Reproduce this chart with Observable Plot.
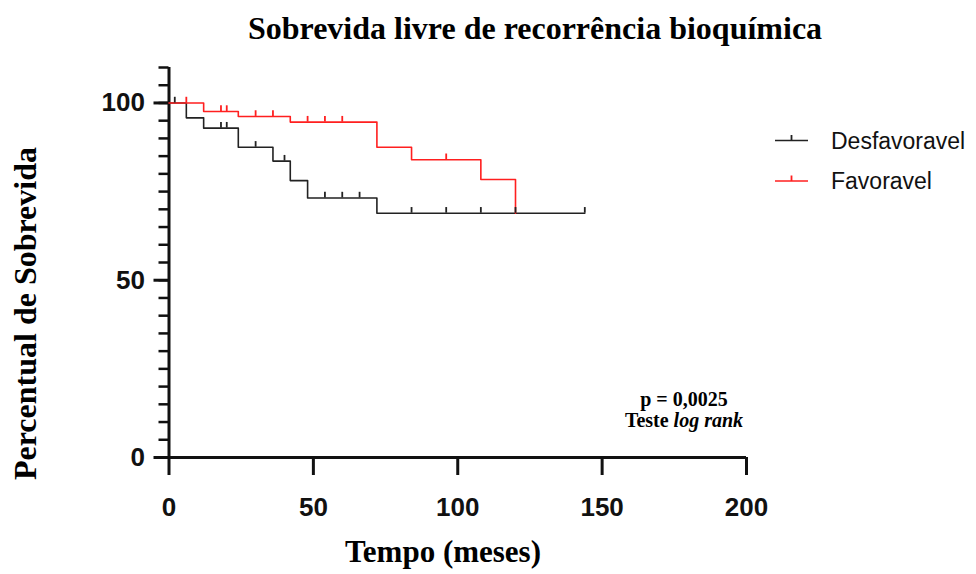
<!DOCTYPE html>
<html>
<head>
<meta charset="utf-8">
<script src="https://cdn.jsdelivr.net/npm/d3@7"></script>
<script src="https://cdn.jsdelivr.net/npm/@observablehq/plot@0.6"></script>
<style>
  html, body { margin: 0; padding: 0; background: #fff; }
  #chart { width: 976px; height: 574px; }
</style>
</head>
<body>
<div id="chart"></div>
<script>
// ---- data ----
const groups = ["Desfavoravel", "Favoravel"];
const groupColors = ["#222222", "#ff1f1f"];

const desfTimes = [0, 6, 12, 24, 36, 42, 48, 72, 144];
const desfSurv  = [100, 95.8, 92.9, 87.5, 83.6, 78.1, 73.2, 68.9, 68.9];
const desfCensored = [2, 18, 20, 30, 40, 54, 60, 66, 84, 96, 108, 120, 144];

const favTimes = [0, 12, 24, 42, 72, 84, 108, 120];
const favSurv  = [100, 97.6, 96.2, 94.6, 87.5, 84.0, 78.4, 68.9];
const favCensored = [6, 18, 20, 30, 36, 48, 54, 60, 96];

const xTicks = [0, 50, 100, 150, 200];
const yTicks = [0, 50, 100];
const yMinorTicks = d3.range(0, 111, 5);

const title = "Sobrevida livre de recorrência bioquímica";
const xLabel = "Tempo (meses)";
const yLabel = "Percentual de Sobrevida";
const pText = "p = 0,0025";

// ---- build tables ----
function steps(group, times, surv) {
  return times.map((t, i) => ({group, t, s: surv[i]}));
}
function survAt(times, surv, t) {
  let v = surv[0];
  for (let i = 0; i < times.length; i++) if (times[i] <= t) v = surv[i];
  return v;
}
function censor(group, times, surv, cens) {
  return cens.map(t => ({group, t, s: survAt(times, surv, t)}));
}
const curveRows = [
  ...steps("Desfavoravel", desfTimes, desfSurv),
  ...steps("Favoravel", favTimes, favSurv)
];
const censorRows = [
  ...censor("Desfavoravel", desfTimes, desfSurv, desfCensored),
  ...censor("Favoravel", favTimes, favSurv, favCensored)
];

const sans = "Liberation Sans, Arial, sans-serif";
const serif = "Liberation Serif, Times New Roman, serif";

const svg = Plot.plot({
  width: 976,
  height: 574,
  marginLeft: 168.5,
  marginRight: 230,
  marginTop: 67,
  marginBottom: 117,
  x: {domain: [0, 200]},
  y: {domain: [0, 110]},
  color: {domain: groups, range: groupColors},
  style: {background: "white", color: "#111", overflow: "visible"},
  marks: [
    Plot.axisY({ticks: yMinorTicks, tickSize: 10, strokeWidth: 2.5, tickFormat: () => "", label: null}),
    Plot.axisY({ticks: yTicks, tickSize: 15, strokeWidth: 3, tickPadding: 9,
      fontSize: 26, fontWeight: "bold", fontFamily: sans, label: null}),
    Plot.axisX({ticks: xTicks, tickSize: 18, strokeWidth: 3, tickPadding: 22,
      fontSize: 26, fontWeight: "bold", fontFamily: sans, label: null}),
    Plot.ruleX([0], {y1: 0, y2: 110, strokeWidth: 3}),
    Plot.ruleY([0], {x1: 0, x2: 200, strokeWidth: 3}),
    Plot.line(curveRows.filter(d => d.group === "Desfavoravel"), {x: "t", y: "s", stroke: "group", curve: "step-after", strokeWidth: 1.6}),
    Plot.line(curveRows.filter(d => d.group === "Favoravel"), {x: "t", y: "s", stroke: "group", curve: "step-after", strokeWidth: 1.6}),
    Plot.ruleX(censorRows, {x: "t", y1: "s", y2: d => d.s + 1.6, stroke: "group", strokeWidth: 1.8})
  ]
});

const s = d3.select(svg);
// title
s.append("text").attr("x", 535).attr("y", 38.5).attr("text-anchor", "middle")
  .attr("font-family", serif).attr("font-weight", "bold").attr("font-size", 32).attr("fill", "#000")
  .text(title);
// x label
s.append("text").attr("x", 443).attr("y", 562).attr("text-anchor", "middle")
  .attr("font-family", serif).attr("font-weight", "bold").attr("font-size", 31).attr("fill", "#000")
  .text(xLabel);
// y label
s.append("text").attr("transform", "translate(36,313.5) rotate(-90)").attr("text-anchor", "middle")
  .attr("font-family", serif).attr("font-weight", "bold").attr("font-size", 32).attr("fill", "#000")
  .text(yLabel);
// annotation
s.append("text").attr("x", 684).attr("y", 406).attr("text-anchor", "middle")
  .attr("font-family", serif).attr("font-weight", "bold").attr("font-size", 20).attr("fill", "#000")
  .text(pText);
const t2 = s.append("text").attr("x", 684).attr("y", 427).attr("text-anchor", "middle")
  .attr("font-family", serif).attr("font-weight", "bold").attr("font-size", 20).attr("fill", "#000");
t2.append("tspan").text("Teste ");
t2.append("tspan").attr("font-style", "italic").text("log rank");

// legend
const legendY = [140.5, 181];
groups.forEach((g, i) => {
  const gy = legendY[i];
  s.append("line").attr("x1", 775).attr("x2", 808).attr("y1", gy).attr("y2", gy)
    .attr("stroke", groupColors[i]).attr("stroke-width", 1.6);
  s.append("line").attr("x1", 791.5).attr("x2", 791.5).attr("y1", gy).attr("y2", gy - 5.5)
    .attr("stroke", groupColors[i]).attr("stroke-width", 1.8);
  s.append("text").attr("x", 831).attr("y", gy + 8).attr("text-anchor", "start")
    .attr("font-family", sans).attr("font-size", 23).attr("fill", "#111").text(g);
});

document.getElementById("chart").appendChild(svg);
</script>
</body>
</html>
